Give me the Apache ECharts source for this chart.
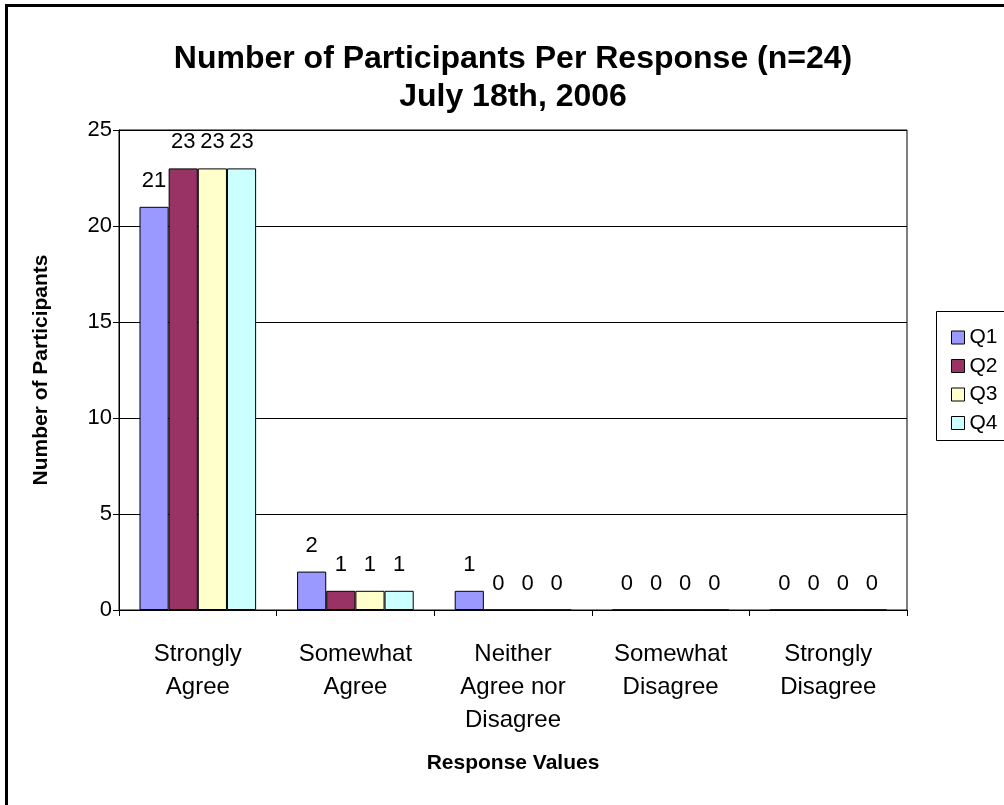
<!DOCTYPE html>
<html>
<head>
<meta charset="utf-8">
<script src="https://cdn.jsdelivr.net/npm/echarts@6/dist/echarts.min.js"></script>
<style>
  html, body { margin: 0; padding: 0; background: #fff; overflow: hidden; }
  #chart { width: 1004px; height: 805px; }
</style>
</head>
<body>
<div id="chart"></div>
<script>
// Survey responses per question
const categories = ['Strongly\nAgree', 'Somewhat\nAgree', 'Neither\nAgree nor\nDisagree', 'Somewhat\nDisagree', 'Strongly\nDisagree'];
const q1 = [21, 2, 1, 0, 0];
const q2 = [23, 1, 0, 0, 0];
const q3 = [23, 1, 0, 0, 0];
const q4 = [23, 1, 0, 0, 0];
const seriesNames = ['Q1', 'Q2', 'Q3', 'Q4'];
const seriesColors = ['#9999FF', '#993366', '#FFFFCC', '#CCFFFF'];
const yTicks = [0, 5, 10, 15, 20, 25];

const FONT = 'Liberation Sans, Arial, sans-serif';
const chart = echarts.init(document.getElementById('chart'));

const values = [q1, q2, q3, q4];
const series = values.map((data, i) => ({
  name: seriesNames[i],
  type: 'bar',
  data: data,
  barGap: '0%',
  barCategoryGap: '26%',
  itemStyle: { color: seriesColors[i], borderColor: '#000', borderWidth: 1 },
  label: {
    show: true,
    position: 'top',
    distance: 15,
    color: '#000',
    fontFamily: FONT,
    fontSize: 22
  }
}));

chart.setOption({
  animation: false,
  backgroundColor: '#fff',
  textStyle: { fontFamily: FONT },
  title: {
    text: 'Number of Participants Per Response (n=24)\nJuly 18th, 2006',
    left: 508,
    top: 35,
    textAlign: 'center',
    textStyle: { fontFamily: FONT, fontSize: 32, fontWeight: 'bold', color: '#000', lineHeight: 38 }
  },
  legend: {
    orient: 'vertical',
    left: 946,
    top: 322,
    itemWidth: 13,
    itemHeight: 13,
    itemGap: 7.5,
    icon: 'rect',
    data: seriesNames.map((n, i) => ({ name: n, itemStyle: { color: seriesColors[i], borderColor: '#000', borderWidth: 1 } })),
    textStyle: { fontFamily: FONT, fontSize: 21, color: '#000' }
  },
  grid: {
    left: 119,
    right: 97,
    top: 130,
    bottom: 195,
    show: true,
    borderColor: '#000',
    borderWidth: 1,
    containLabel: false
  },
  xAxis: {
    type: 'category',
    data: categories,
    name: 'Response Values',
    nameLocation: 'middle',
    nameGap: 143,
    nameTextStyle: { fontFamily: FONT, fontSize: 21, fontWeight: 'bold', color: '#000' },
    axisLine: { lineStyle: { color: '#000', width: 1 } },
    axisTick: { show: true, length: 6, lineStyle: { color: '#000' }, alignWithLabel: false },
    axisLabel: { color: '#000', fontFamily: FONT, fontSize: 24, lineHeight: 33, margin: 28, interval: 0 }
  },
  yAxis: {
    type: 'value',
    min: 0,
    max: 25,
    interval: 5,
    name: 'Number of Participants',
    nameLocation: 'middle',
    nameGap: 67,
    nameRotate: 90,
    nameTextStyle: { fontFamily: FONT, fontSize: 21, fontWeight: 'bold', color: '#000' },
    axisLine: { show: true, lineStyle: { color: '#000', width: 1 } },
    axisTick: { show: true, length: 6, lineStyle: { color: '#000' } },
    axisLabel: {
      color: '#000', fontFamily: FONT, fontSize: 22, margin: 7,
      formatter: v => (yTicks.includes(v) ? String(v) : '')
    },
    splitLine: { show: true, lineStyle: { color: '#000', width: 1 } }
  },
  graphic: [
    {
      type: 'rect',
      shape: { x: 6.5, y: 5.5, width: 1020, height: 820 },
      style: { fill: null, stroke: '#000', lineWidth: 3 },
      silent: true, z: 100
    },
    {
      type: 'rect',
      shape: { x: 936.5, y: 311.5, width: 100, height: 129 },
      style: { fill: null, stroke: '#000', lineWidth: 1 },
      silent: true, z: 100
    }
  ],
  series: series
});
</script>
</body>
</html>
